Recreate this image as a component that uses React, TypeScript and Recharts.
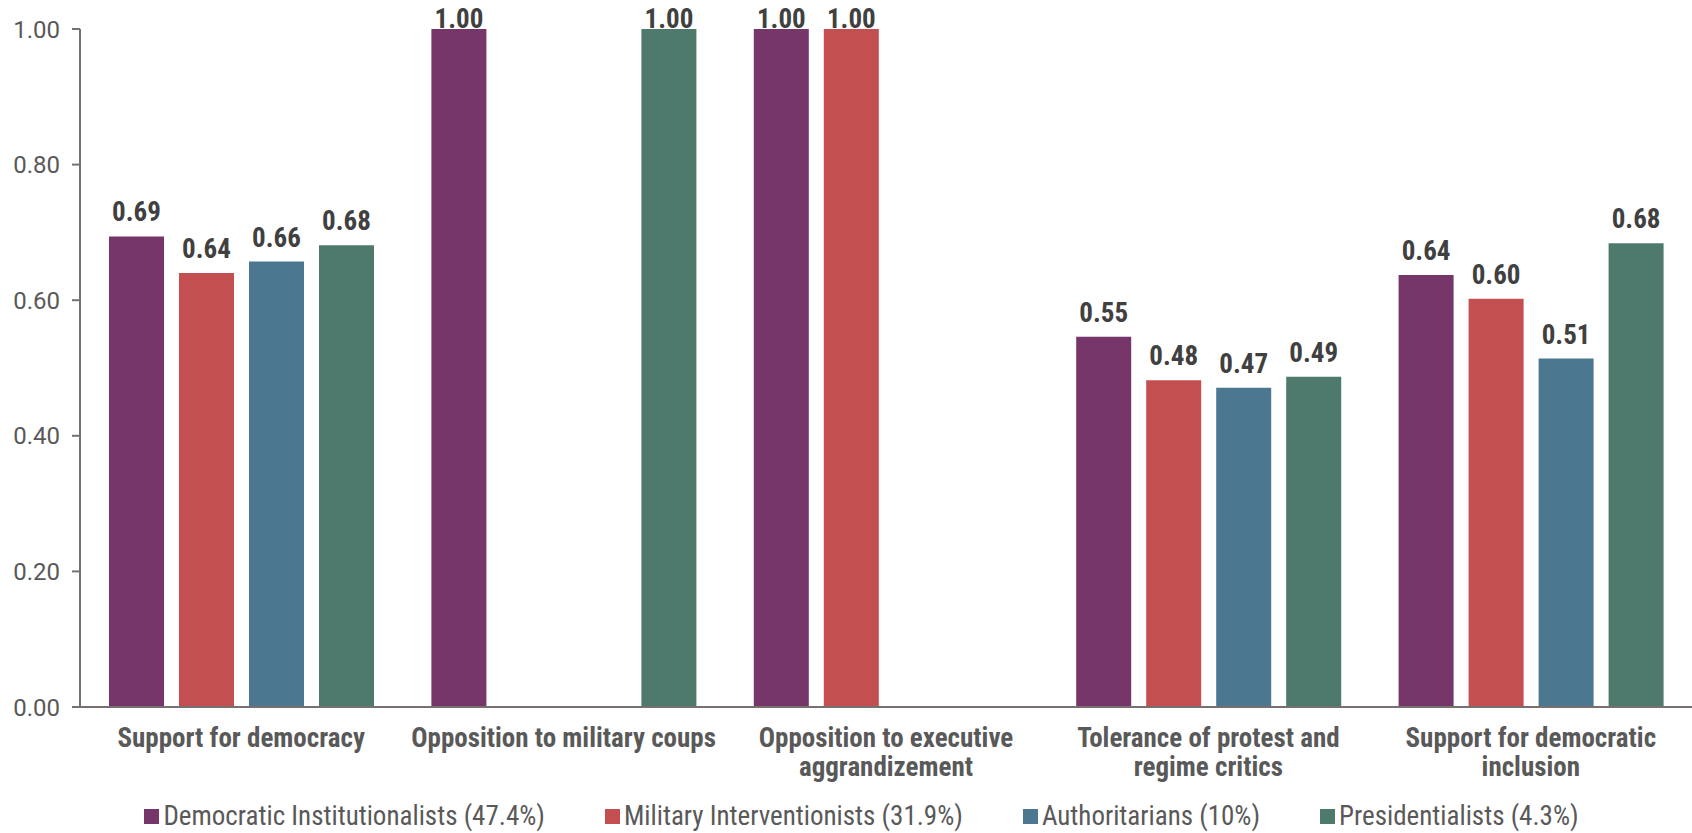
import React from "react";
import { BarChart, Bar, XAxis, YAxis, Legend, LabelList } from "recharts";

const categories = [
  "Support for democracy",
  "Opposition to military coups",
  "Opposition to executive\naggrandizement",
  "Tolerance of protest and\nregime critics",
  "Support for democratic\ninclusion",
];
const democraticInstitutionalists = [0.694, 1.0, 1.0, 0.546, 0.637];
const militaryInterventionists = [0.64, 0.0, 1.0, 0.482, 0.602];
const authoritarians = [0.657, 0.0, 0.0, 0.471, 0.514];
const presidentialists = [0.681, 1.0, 0.0, 0.487, 0.684];
const yTicks = [0, 0.2, 0.4, 0.6, 0.8, 1.0];

const seriesNames = [
  "Democratic Institutionalists (47.4%)",
  "Military Interventionists (31.9%)",
  "Authoritarians (10%)",
  "Presidentialists (4.3%)",
];
const seriesColors = ["#76366a", "#c44f51", "#4b7890", "#4d7a6c"];
const seriesKeys = ["dem", "mil", "auth", "pres"];

const data = categories.map((c, i) => ({
  category: c,
  dem: democraticInstitutionalists[i],
  mil: militaryInterventionists[i],
  auth: authoritarians[i],
  pres: presidentialists[i],
}));

const COND = "'Roboto Condensed', 'Liberation Sans Narrow', Roboto, sans-serif";

const CategoryTick = (props: any) => {
  const { x, y, payload } = props;
  const lines = String(payload.value).split("\n");
  return (
    <text
      x={x}
      y={y}
      textAnchor="middle"
      fill="#595959"
      fontFamily={COND}
      fontWeight={700}
      fontSize={27}
    >
      {lines.map((l, i) => (
        <tspan key={i} x={x} y={y + 40 + i * 29}>
          {l}
        </tspan>
      ))}
    </text>
  );
};

const ValueLabel = (props: any) => {
  const { x, y, width, value } = props;
  const baseline = Math.max(Number(y) - 15, 28);
  return (
    <text
      x={Number(x) + Number(width) / 2}
      y={baseline}
      textAnchor="middle"
      fill="#404040"
      fontFamily={COND}
      fontWeight={700}
      fontSize={27}
    >
      {Number(value).toFixed(2)}
    </text>
  );
};

const LegendContent = () => (
  <div
    style={{
      display: "flex",
      justifyContent: "center",
      alignItems: "center",
      paddingLeft: 31,
      height: 34,
      lineHeight: 1,
      fontFamily: COND,
      fontSize: 27,
      color: "#595959",
      whiteSpace: "nowrap",
    }}
  >
    {seriesNames.map((n, i) => (
      <div
        key={n}
        style={{ display: "flex", alignItems: "center", marginRight: i < 3 ? 60 : 0 }}
      >
        <div
          style={{
            width: 15,
            height: 15,
            background: seriesColors[i],
            marginRight: 4,
          }}
        />
        <span>{n}</span>
      </div>
    ))}
  </div>
);

export default function App() {
  return (
    <div style={{ position: "absolute", left: 0, top: 0, background: "#fff" }}>
      <BarChart
        width={1692}
        height={833}
        data={data}
        margin={{ top: 29, right: 0, left: 0, bottom: 0 }}
        barCategoryGap={27}
        barGap={15}
      >
        <XAxis
          dataKey="category"
          interval={0}
          tickLine={false}
          tickSize={0}
          tickMargin={0}
          height={92}
          axisLine={{ stroke: "#767070", strokeWidth: 2 }}
          tick={<CategoryTick />}
        />
        <YAxis
          width={80}
          domain={[0, 1]}
          ticks={yTicks}
          tickFormatter={(v: number) => v.toFixed(2)}
          axisLine={{ stroke: "#767070", strokeWidth: 2 }}
          tickLine={{ stroke: "#767070", strokeWidth: 2 }}
          tickSize={8}
          tickMargin={12}
          tick={{ fill: "#595959", fontSize: 24, fontFamily: "Roboto, sans-serif" }}
        />
        <Legend verticalAlign="bottom" content={<LegendContent />} />
        {seriesKeys.map((k, i) => (
          <Bar
            key={k}
            dataKey={k}
            name={seriesNames[i]}
            fill={seriesColors[i]}
            barSize={55}
            isAnimationActive={false}
          >
            <LabelList dataKey={k} content={<ValueLabel />} />
          </Bar>
        ))}
      </BarChart>
    </div>
  );
}
